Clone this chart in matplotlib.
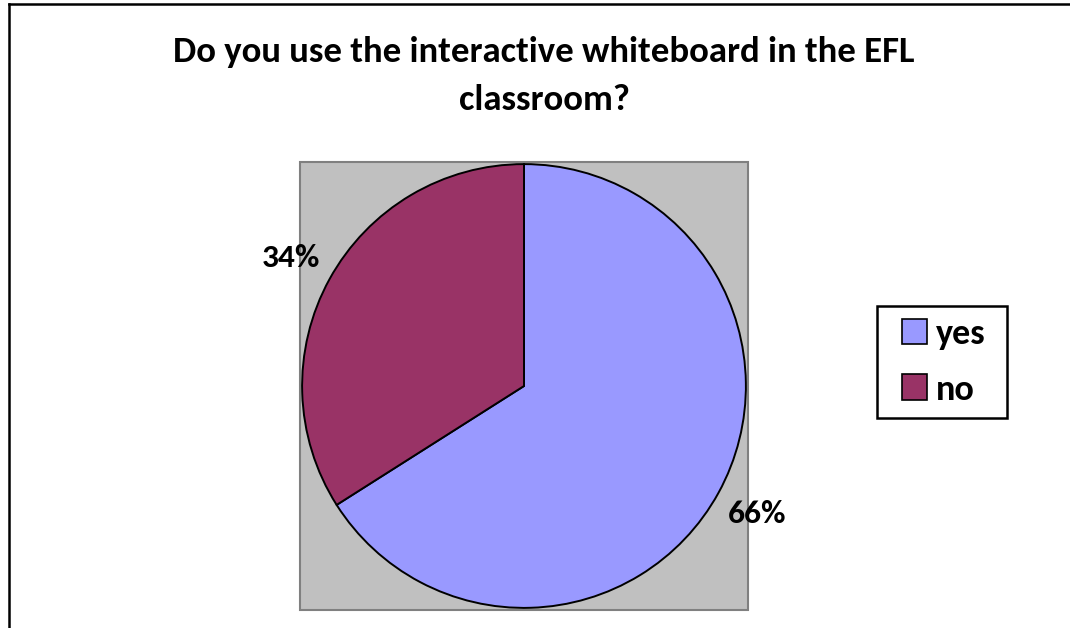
import matplotlib
matplotlib.use("Agg")
import matplotlib.pyplot as plt
from matplotlib.patches import Rectangle, Patch
from matplotlib.lines import Line2D

# Survey answers
categories = ["yes", "no"]
shares = [66, 34]
colors = ["#9999FF", "#993366"]
title_lines = ["Do you use the interactive whiteboard in the EFL", "classroom?"]

W, H = 1070, 628
plt.rcParams["font.family"] = ["Carlito", "DejaVu Sans"]
fig = plt.figure(figsize=(W / 100, H / 100), dpi=100)

# Full-figure canvas in pixel coordinates (y down) for the frame and plot area
bg = fig.add_axes([0, 0, 1, 1])
bg.set_xlim(0, W)
bg.set_ylim(H, 0)
bg.axis("off")
bg.add_line(Line2D([9, 9], [3.5, H + 5], color="black", lw=1.8))
bg.add_line(Line2D([9, W + 5], [3.5, 3.5], color="black", lw=1.8))
bg.add_patch(Rectangle((300, 162), 448, 448, facecolor="#C0C0C0",
                       edgecolor="#808080", lw=1.5))

# Title, one baseline per line
for line, base in zip(title_lines, [62, 110]):
    bg.text(544, base, line, ha="center", va="baseline",
            fontsize=26.5, fontweight="bold")

# Pie
cx, cy, r = 524, 386, 223
ax = fig.add_axes([(cx - r) / W, 1 - (cy + r) / H, 2 * r / W, 2 * r / H])
wedges, _texts, autotexts = ax.pie(
    shares, colors=colors, startangle=90, counterclock=False,
    autopct="%d%%", pctdistance=1.2, radius=1.0,
    wedgeprops=dict(edgecolor="black", linewidth=1.4),
    textprops=dict(fontsize=24, fontweight="bold", color="black"))
ax.set_xlim(-1.005, 1.005)
ax.set_ylim(-1.005, 1.005)
ax.set_aspect("equal")
ax.axis("off")

# Legend box and entries
bg.add_patch(Rectangle((877, 306), 130, 112, facecolor="white",
                       edgecolor="black", lw=1.8, zorder=3))
handles = [Patch(facecolor=c, edgecolor="black", lw=1.2) for c in colors]
leg = fig.legend(handles, categories, loc="center",
                 bbox_to_anchor=(944 / W, 1 - 362 / H),
                 prop=dict(size=26, weight="bold"),
                 handlelength=0.7, handleheight=0.7, handletextpad=0.25,
                 labelspacing=0.64, borderpad=0.2, borderaxespad=0,
                 frameon=False)
leg.set_zorder(5)

fig.savefig("out.png", dpi=100)
